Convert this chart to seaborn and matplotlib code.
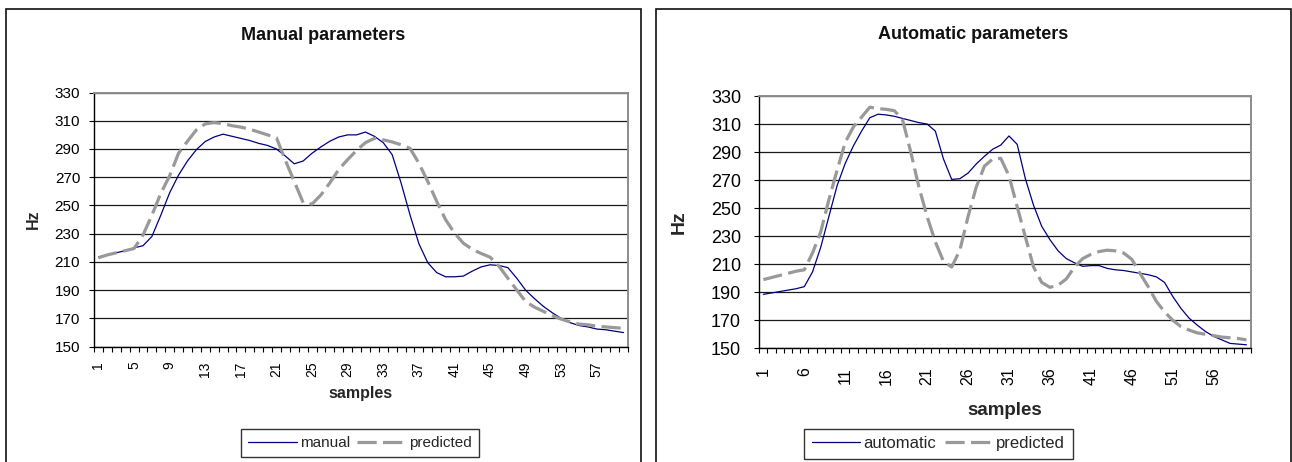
import matplotlib
matplotlib.use("Agg")
import matplotlib.pyplot as plt
import seaborn as sns
from matplotlib.patches import Rectangle

# -------------------------------------------------------- #
# values (Hz per sample)

samples = list(range(1, 61))

manual_hz = [213.5, 215, 216.5, 218, 220, 221.5, 228, 243, 259, 271.5,
             281.5, 289.5, 295.3, 298.5, 300.5, 299, 297.5, 296, 294, 292.5,
             290, 285, 279.5, 281.5, 287, 291.5, 295.5, 298.5, 300, 300,
             302, 299, 294.5, 286, 266, 243.5, 223, 209.5, 202.5, 199.5,
             199.5, 200, 203.5, 206.5, 208, 207.5, 206, 198.5, 190, 184,
             178.5, 174, 170, 167, 165, 164, 162.5, 162, 161, 160]

manual_pred_hz = [213, 215, 216.5, 218, 219.5, 229, 243, 258.5, 271, 287,
                  295.5, 303.5, 307.8, 308.7, 308, 306.5, 305.5, 304, 302, 300,
                  298, 282, 267, 252, 251, 257.5, 266, 275.5, 282.5, 289,
                  294.5, 297.5, 296.5, 295, 293, 290.5, 280, 267, 253, 240,
                  230.5, 223.3, 219, 216, 213.4, 207, 198.5, 190.2, 182, 178,
                  175, 172, 169.5, 167.5, 166, 165.5, 164.5, 164, 163.5, 163]

auto_hz = [188.5, 189.5, 190.5, 191.5, 192.5, 194, 204.5, 222, 244, 266,
           282, 294.5, 305, 314.5, 317, 316.5, 315.5, 314, 312.5, 311,
           310, 305, 285, 270.5, 271, 275, 281.5, 287, 292, 295,
           301.5, 295.5, 271, 252, 237, 227.5, 219.5, 214, 211, 208.5,
           209, 209, 207, 206, 205.5, 204.5, 203.5, 202.5, 201, 197,
           187, 178.5, 171.5, 166.5, 162, 158.5, 156, 153.5, 153, 152.5]

auto_pred_hz = [199, 200.5, 202, 203.5, 205, 206, 218, 233, 256, 277,
                297, 308, 315, 322, 321, 320.5, 319.5, 313, 290, 265,
                244, 226, 212, 208, 220, 244, 265, 280, 285, 285.5,
                273, 251, 229.5, 208, 197, 193.5, 195, 199.5, 208, 214,
                217, 219, 220, 219.5, 218, 213.5, 203.5, 194, 183.5, 176,
                170, 165.5, 163, 161, 160, 159, 158, 157.5, 157, 156]

hz_ticks = [150, 170, 190, 210, 230, 250, 270, 290, 310, 330]
manual_xlabels = [1, 5, 9, 13, 17, 21, 25, 29, 33, 37, 41, 45, 49, 53, 57]
auto_xlabels = [1, 6, 11, 16, 21, 26, 31, 36, 41, 46, 51, 56]

# -------------------------------------------------------- #

sns.set_theme(style="white")
plt.rcParams["font.family"] = ["Liberation Sans", "DejaVu Sans"]

fig = plt.figure(figsize=(12.92, 4.62), dpi=100)

# the two chart frames (Excel chart area borders)
for x0, x1 in [(5.5, 641), (656, 1290.5)]:
    fig.add_artist(Rectangle((x0 / 1292, -0.05), (x1 - x0) / 1292, 1.05 - 9 / 462,
                             transform=fig.transFigure, fill=False,
                             edgecolor="#111111", linewidth=1.2))

ax1 = fig.add_axes([94 / 1292, 1 - 346.7 / 462, 534 / 1292, 254.2 / 462])
ax2 = fig.add_axes([759.3 / 1292, 1 - 348.3 / 462, 491.2 / 1292, 252.3 / 462])


def draw(ax, actual, pred, name, xlabels, title, s):
    # s: dict of font sizes / pads for this panel
    sns.lineplot(x=samples, y=actual, ax=ax, color="#000080", linewidth=0.9,
                 label=name)
    sns.lineplot(x=samples, y=pred, ax=ax, color="#999999", linewidth=2.3,
                 linestyle=(0, (6, 2)), label="predicted")

    ax.set_xlim(0.5, 60.5)
    ax.set_ylim(150, 330)
    ax.set_yticks(hz_ticks)
    ax.set_xticks(xlabels)
    ax.set_xticklabels([str(v) for v in xlabels], rotation=90)
    ax.set_xticks([v + 0.5 for v in range(0, 61)], minor=True)

    ax.yaxis.grid(True, color="#1a1a1a", linewidth=0.9)
    ax.set_axisbelow(True)

    for side in ["left", "bottom"]:
        ax.spines[side].set_color("black")
        ax.spines[side].set_linewidth(1.0)
    for side in ["top", "right"]:
        ax.spines[side].set_color("#8c8c8c")
        ax.spines[side].set_linewidth(1.4)

    ax.tick_params(axis="y", left=True, direction="out", length=3.6, width=0.8,
                   color="black", labelsize=s["ytick"], pad=s["ypad"],
                   labelcolor="black")
    ax.tick_params(axis="x", which="major", bottom=True, length=0,
                   labelsize=s["xtick"], pad=s["xpad"], labelcolor="black")
    ax.tick_params(axis="x", which="minor", bottom=True, direction="out",
                   length=3.6, width=0.8, color="black")

    ax.set_xlabel("samples", fontsize=s["label"], fontweight="bold")
    ax.xaxis.set_label_coords(0.5, s["xl_y"])
    ax.xaxis.label.set_va("center")
    ax.set_ylabel("Hz", fontsize=s["hz"], fontweight="bold")
    ax.yaxis.set_label_coords(s["yl_x"], 0.5)
    ax.yaxis.label.set_va("center")

    ax.text(s["t_x"], s["t_y"], title, transform=ax.transAxes, ha="center",
            va="center", fontsize=13, fontweight="bold", color="#111111")

    leg = ax.legend(loc="center", bbox_to_anchor=s["leg"],
                    bbox_transform=fig.transFigure, ncol=2,
                    fontsize=s["legfont"], frameon=True, fancybox=False,
                    handlelength=s["hl"], handletextpad=0.2,
                    columnspacing=0.5, borderpad=0.45)
    leg.get_frame().set_edgecolor("black")
    leg.get_frame().set_linewidth(1.0)


draw(ax1, manual_hz, manual_pred_hz, "manual", manual_xlabels,
     "Manual parameters",
     dict(ytick=11, ypad=6.3, xtick=10, xpad=10.5, label=11.5, xl_y=-0.186,
          hz=11.5, yl_x=-0.114, t_x=0.429, t_y=1.226, leg=(0.2786, 0.041),
          legfont=11, hl=3.2))

draw(ax2, auto_hz, auto_pred_hz, "automatic", auto_xlabels,
     "Automatic parameters",
     dict(ytick=13, ypad=9.5, xtick=11.5, xpad=13.5, label=13.5, xl_y=-0.245,
          hz=14, yl_x=-0.163, t_x=0.435, t_y=1.242, leg=(0.7264, 0.040),
          legfont=12, hl=2.9))

plt.savefig("out.png", dpi=100)
